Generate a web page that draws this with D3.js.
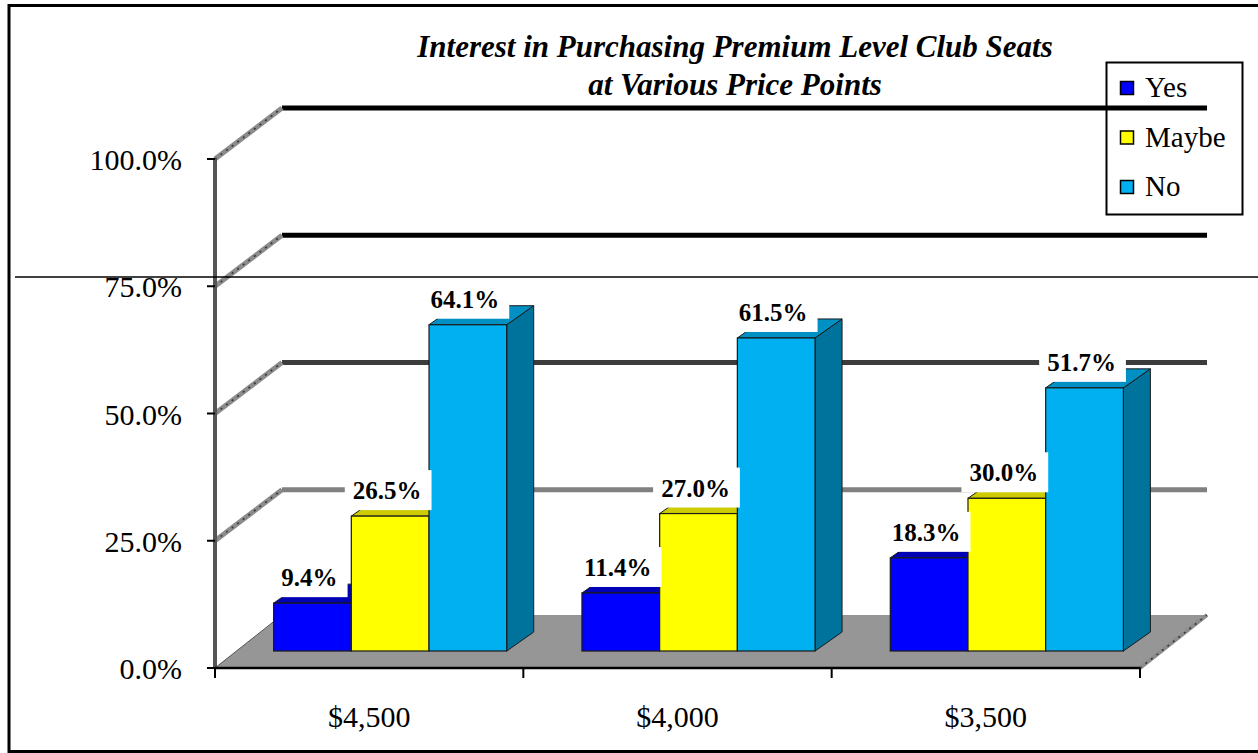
<!DOCTYPE html>
<html><head><meta charset="utf-8">
<script src="https://cdn.jsdelivr.net/npm/d3@7"></script>
<style>
html,body{margin:0;padding:0;background:#fff;}
svg{display:block;}
text{font-family:"Liberation Serif","Times New Roman",serif;}
</style></head>
<body>
<svg id="chart" width="1258" height="753"></svg>
<script>
const categories = ["$4,500", "$4,000", "$3,500"];
const seriesNames = ["Yes", "Maybe", "No"];
const yesValues = [9.4, 11.4, 18.3];
const maybeValues = [26.5, 27.0, 30.0];
const noValues = [64.1, 61.5, 51.7];
const yTicks = [0, 25, 50, 75, 100];
const titleLines = ["Interest in Purchasing Premium Level Club Seats", "at Various Price Points"];

const seriesValues = [yesValues, maybeValues, noValues];
const colors = {
  Yes:   {front:"#0000FF", top:"#0000B4", side:"#00009A"},
  Maybe: {front:"#FFFF00", top:"#CCCC00", side:"#AAAA00"},
  No:    {front:"#00B0F0", top:"#0090C4", side:"#00739C"}
};

const svg = d3.select("#chart");
const X0 = 215, X1 = 1140;
const WDX = 67, WDY = -51;   // wall depth
const BOX = 21, BOY = -17;   // bar front offset
const BDX = 27, BDY = -19;   // bar depth

const x = d3.scaleBand().domain(categories).range([X0, X1]).paddingInner(0.244).paddingOuter(0.122);
const xs = d3.scaleBand().domain(seriesNames).range([0, x.bandwidth()]);
const y = d3.scaleLinear().domain([0, 100]).range([668, 159]);

// outer border
svg.append("rect").attr("x", 9).attr("y", 5.5).attr("width", 1270).attr("height", 746)
  .attr("fill", "none").attr("stroke", "#000").attr("stroke-width", 3);

// title
const title = svg.append("text").attr("text-anchor", "middle")
  .attr("font-weight", "bold").attr("font-style", "italic").attr("font-size", 31);
title.append("tspan").attr("x", 735).attr("y", 57).text(titleLines[0]);
title.append("tspan").attr("x", 735).attr("y", 95).text(titleLines[1]);

// legend
const lg = svg.append("g");
lg.append("rect").attr("x", 1106.5).attr("y", 62.5).attr("width", 136).attr("height", 152)
  .attr("fill", "none").attr("stroke", "#000").attr("stroke-width", 2);
seriesNames.forEach((s, i) => {
  const cy = 97 + i * 49.5;
  lg.append("rect").attr("x", 1120.5).attr("y", cy - 15.5).attr("width", 13).attr("height", 13)
    .attr("fill", colors[s].front).attr("stroke", "#000").attr("stroke-width", 1.5);
  lg.append("text").attr("x", 1145).attr("y", cy).attr("font-size", 29).text(s);
});

// back wall gridlines
const gridStyle = {25:{c:"#808080"}, 50:{c:"#3c3c3c"}, 75:{c:"#000"}, 100:{c:"#000"}};
yTicks.filter(t => t > 0).forEach(t => {
  svg.append("line").attr("x1", X0 + WDX).attr("x2", X1 + WDX)
    .attr("y1", y(t) + WDY).attr("y2", y(t) + WDY)
    .attr("stroke", gridStyle[t].c).attr("stroke-width", 5);
  svg.append("line").attr("x1", X0).attr("y1", y(t)).attr("x2", X0 + WDX).attr("y2", y(t) + WDY)
    .attr("stroke", "#8c8c8c").attr("stroke-width", 5);
  svg.append("line").attr("x1", X0).attr("y1", y(t)).attr("x2", X0 + WDX).attr("y2", y(t) + WDY)
    .attr("stroke", "#333").attr("stroke-width", 1.5).attr("stroke-dasharray", "2,5");
});

// floor
const floorPts = [[X0, y(0)], [X1, y(0)], [X1 + WDX, y(0) + WDY - 2], [X0 + WDX, y(0) + WDY - 2]];
svg.append("polygon").attr("points", floorPts.map(p => p.join(",")).join(" "))
  .attr("fill", "#969696");
svg.append("line").attr("x1", X0).attr("y1", y(0)).attr("x2", X0 + WDX).attr("y2", y(0) + WDY - 2)
  .attr("stroke", "#555").attr("stroke-width", 1);
svg.append("line").attr("x1", X1).attr("y1", y(0)).attr("x2", X1 + WDX).attr("y2", y(0) + WDY - 2)
  .attr("stroke", "#8c8c8c").attr("stroke-width", 4);
svg.append("line").attr("x1", X1).attr("y1", y(0)).attr("x2", X1 + WDX).attr("y2", y(0) + WDY - 2)
  .attr("stroke", "#333").attr("stroke-width", 1.5).attr("stroke-dasharray", "2,5");

// y axis line
svg.append("line").attr("x1", X0).attr("x2", X0).attr("y1", y(100)).attr("y2", y(0))
  .attr("stroke", "#555").attr("stroke-width", 4);

// bars
const base = y(0) + BOY;
const bars = svg.append("g");
categories.forEach((cat, ci) => {
  seriesNames.forEach((s, si) => {
    const v = seriesValues[si][ci];
    const xl = x(cat) + xs(s) + BOX, xr = xl + xs.bandwidth();
    const yt = y(v) + BOY;
    const col = colors[s];
    bars.append("polygon")
      .attr("points", [[xr, yt], [xr + BDX, yt + BDY], [xr + BDX, base + BDY], [xr, base]].map(p => p.join(",")).join(" "))
      .attr("fill", col.side).attr("stroke", "#1a1a1a").attr("stroke-width", 1).attr("stroke-linejoin", "round");
    bars.append("polygon")
      .attr("points", [[xl, yt], [xr, yt], [xr + BDX, yt + BDY], [xl + BDX, yt + BDY]].map(p => p.join(",")).join(" "))
      .attr("fill", col.top).attr("stroke", "#1a1a1a").attr("stroke-width", 1).attr("stroke-linejoin", "round");
    bars.append("rect").attr("x", xl).attr("y", yt).attr("width", xr - xl).attr("height", base - yt)
      .attr("fill", col.front).attr("stroke", "#1a1a1a").attr("stroke-width", 1.2);
  });
});

// data labels
const labels = svg.append("g");
categories.forEach((cat, ci) => {
  seriesNames.forEach((s, si) => {
    const v = seriesValues[si][ci];
    const cx = x(cat) + xs(s) + BOX + xs.bandwidth() / 2 - 3;
    const yt = y(v) + BOY;
    const g = labels.append("g");
    const r = g.append("rect").attr("fill", "#fff");
    const t = g.append("text").attr("x", cx).attr("y", yt - 17).attr("text-anchor", "middle")
      .attr("font-weight", "bold").attr("font-size", 25).text(v.toFixed(1) + "%");
    const w = t.node().getComputedTextLength();
    r.attr("x", cx - w / 2 - 8).attr("y", yt - 17 - 29).attr("width", w + 18).attr("height", 29 + 17 - 6);
  });
});

// x axis
svg.append("line").attr("x1", X0).attr("x2", X1).attr("y1", y(0)).attr("y2", y(0))
  .attr("stroke", "#000").attr("stroke-width", 2.5);
const xTickPos = [X0].concat(categories.map(c => x(c) - x.step() * x.paddingInner() / 2 + x.step()));
xTickPos.forEach(px => {
  svg.append("line").attr("x1", px).attr("x2", px).attr("y1", y(0)).attr("y2", y(0) + 10)
    .attr("stroke", "#000").attr("stroke-width", 2);
});
categories.forEach(c => {
  svg.append("text").attr("x", x(c) + x.bandwidth() / 2).attr("y", 727).attr("text-anchor", "middle")
    .attr("font-size", 30).text(c);
});

// y ticks and labels
yTicks.forEach(t => {
  svg.append("line").attr("x1", X0 - 8).attr("x2", X0).attr("y1", y(t)).attr("y2", y(t))
    .attr("stroke", "#000").attr("stroke-width", 2);
  svg.append("text").attr("x", 182).attr("y", y(t) + 11).attr("text-anchor", "end")
    .attr("font-size", 30).text(t.toFixed(1) + "%");
});

// thin stray horizontal line
svg.append("line").attr("x1", 15).attr("x2", 1258).attr("y1", 277).attr("y2", 277)
  .attr("stroke", "#000").attr("stroke-width", 1.5);
</script>
</body></html>
